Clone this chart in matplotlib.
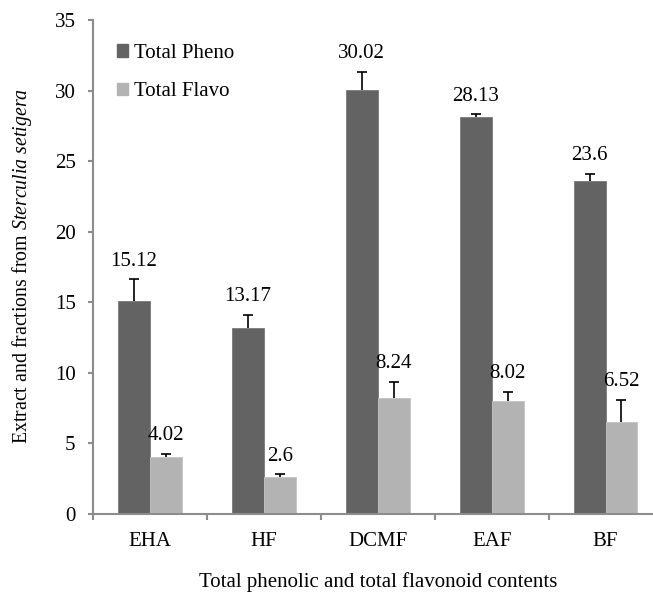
import numpy as np
import matplotlib
matplotlib.use("Agg")
import matplotlib.pyplot as plt
from matplotlib.patches import Patch

plt.rcParams["font.family"] = "Liberation Serif"
plt.rcParams["mathtext.fontset"] = "custom"
plt.rcParams["mathtext.it"] = "Liberation Serif:italic"
plt.rcParams["mathtext.rm"] = "Liberation Serif"

categories = ["EHA", "HF", "DCMF", "EAF", "BF"]
pheno = [15.12, 13.17, 30.02, 28.13, 23.6]
pheno_err = [1.5, 0.95, 1.3, 0.18, 0.5]
flavo = [4.02, 2.6, 8.24, 8.02, 6.52]
flavo_err = [0.25, 0.2, 1.1, 0.6, 1.57]

c_pheno = "#636363"
c_flavo = "#b3b3b3"
spine_c = "#8c8c8c"

fig = plt.figure(figsize=(6.53, 5.98), dpi=100)
ax = fig.add_axes([93 / 653, 84 / 598, 569.5 / 653, 494 / 598])

x = np.arange(len(categories))
w = 0.28
ekw = dict(ecolor="black", elinewidth=1.2, capsize=3.5, capthick=1.2)
b1 = ax.bar(x - w / 2, pheno, w, color=c_pheno, edgecolor="#7a7a7a", linewidth=0.6,
            yerr=[np.zeros(5), pheno_err], error_kw=ekw)
b2 = ax.bar(x + w / 2, flavo, w, color=c_flavo, edgecolor="#c4c4c4", linewidth=0.6,
            yerr=[np.zeros(5), flavo_err], error_kw=ekw)
# only the upper half of each error bar
for b in (b1, b2):
    caps = b.errorbar.lines[1]
    caps[0].set_visible(False)

for i in range(len(categories)):
    ax.annotate(f"{pheno[i]:g}", (x[i] - w / 2, pheno[i] + pheno_err[i]), xytext=(0, 10),
                textcoords="offset points", ha="center", va="baseline", fontsize=15)
    ax.annotate(f"{flavo[i]:g}", (x[i] + w / 2, flavo[i] + flavo_err[i]), xytext=(0, 10),
                textcoords="offset points", ha="center", va="baseline", fontsize=15)

ax.set_xlim(-0.5, len(categories) - 0.5)
ax.set_ylim(0, 35)
ax.set_yticks(range(0, 36, 5))
ax.set_xticks(x)
ax.set_xticklabels(categories)
ax.set_xticks(np.arange(-0.5, len(categories), 1), minor=True)

for s in ["top", "right"]:
    ax.spines[s].set_visible(False)
for s in ["left", "bottom"]:
    ax.spines[s].set_color(spine_c)
    ax.spines[s].set_linewidth(1.5)

ax.tick_params(axis="x", which="major", length=0, pad=13, labelsize=15)
ax.tick_params(axis="x", which="minor", length=4, width=1.5, color=spine_c)
ax.tick_params(axis="y", length=3.5, width=1.5, color=spine_c, pad=9, labelsize=15)

ax.set_ylabel("Extract and fractions from $\\mathit{Sterculia\\ setigera}$", fontsize=14.3)
ax.yaxis.set_label_coords(-(93 - 34) / 569.5, (514 - 266) / 494)
fig.text(378 / 653, 1 - 582 / 598, "Total phenolic and total flavonoid contents",
         ha="center", va="center", fontsize=15)

handles = [Patch(color=c_pheno, label="Total Pheno"), Patch(color=c_flavo, label="Total Flavo")]
ax.legend(handles=handles, loc="upper left", bbox_to_anchor=(0.009, 0.99), frameon=False,
          fontsize=15, handlelength=0.55, handleheight=0.55, handletextpad=0.25, labelspacing=0.95)

fig.savefig("out.png", dpi=100)
